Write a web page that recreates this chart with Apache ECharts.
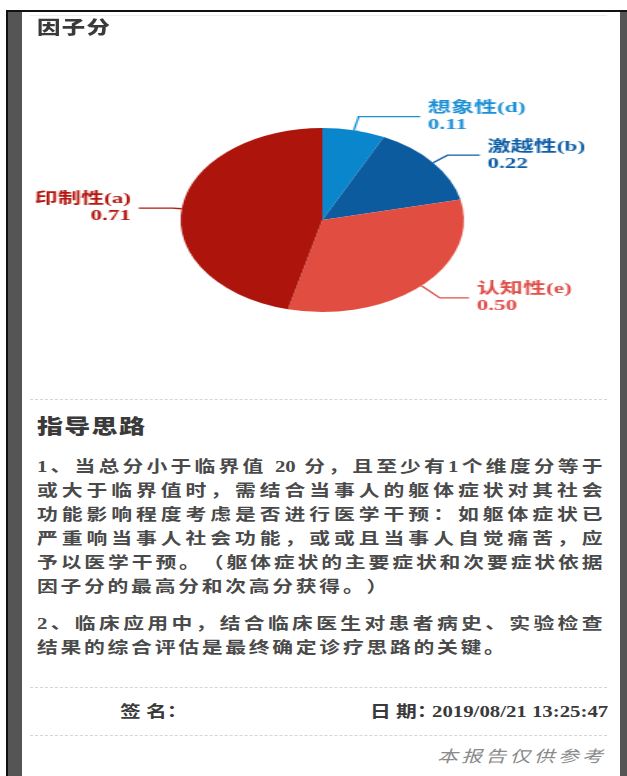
<!DOCTYPE html>
<html>
<head>
<meta charset="utf-8">
<script src="https://cdn.jsdelivr.net/npm/echarts@6/dist/echarts.min.js"></script>
<style>
  html, body { margin: 0; padding: 0; background: #fff; }
  body { width: 627px; height: 776px; position: relative; overflow: hidden; font-family: "Liberation Serif", "Noto Sans CJK SC", serif; }
  .frameTop { position: absolute; left: 6px; top: 10px; width: 621px; height: 2px; background: #111; }
  .frameLeftLine { position: absolute; left: 6px; top: 10px; width: 2px; height: 766px; background: #111; }
  .frameLeft { position: absolute; left: 8px; top: 12px; width: 14px; height: 764px; background: #555; }
  .frameRight { position: absolute; left: 620px; top: 12px; width: 7px; height: 764px; background: #555; }
  .topLine { position: absolute; left: 30px; top: 15px; width: 577px; height: 1px; background: #eee; }
  .dash { position: absolute; left: 30px; width: 577px; height: 0; border-top: 1px dashed #d6d6d6; }
  .t { position: absolute; white-space: nowrap; transform: scaleX(1.3); transform-origin: 0 0; font-weight: bold; text-spacing-trim: space-all; }
  .just { text-align: justify; text-align-last: justify; white-space: normal; }
  #chart { position: absolute; left: 22px; top: 0px; width: 388px; height: 400px; transform: scaleX(1.54); transform-origin: 0 0; }
</style>
</head>
<body>
<div class="frameTop"></div>
<div class="frameLeftLine"></div>
<div class="frameLeft"></div>
<div class="frameRight"></div>
<div class="topLine"></div>
<div id="chart"></div>
<div id="texts"></div>
<script>
// ---- data ----
const pieTitle = '因子分';
const categories = ['想象性(d)', '激越性(b)', '认知性(e)', '印制性(a)'];
const values = [0.11, 0.22, 0.50, 0.71];
const sectionTitle = '指导思路';
const paragraph1 = [
  '1、当总分小于临界值 20 分，且至少有1个维度分等于',
  '或大于临界值时，需结合当事人的躯体症状对其社会',
  '功能影响程度考虑是否进行医学干预：如躯体症状已',
  '严重响当事人社会功能，或或且当事人自觉痛苦，应',
  '予以医学干预。（躯体症状的主要症状和次要症状依据',
  '因子分的最高分和次高分获得。）'
];
const paragraph2 = [
  '2、临床应用中，结合临床医生对患者病史、实验检查',
  '结果的综合评估是最终确定诊疗思路的关键。'
];
const signLabel = '签 名：';
const dateLabel = '日 期：';
const dateValue = '2019/08/21 13:25:47';
const footNote = '本报告仅供参考';

// ---- styles ----
const sliceColors = ['#0a87cc', '#0b5b9e', '#e24d42', '#ad140b'];
const labelColors = ['#1a8fd6', '#0e5ea6', '#e04e48', '#b3170f'];
const lineLen1 = [14, 12, 17, 6];
const lineLen2 = [40, 21, 19, 22];

// ---- texts (HTML) ----
const texts = document.getElementById('texts');
function addText(str, left, centerY, size, opts) {
  opts = opts || {};
  const d = document.createElement('div');
  d.className = 't' + (opts.justify ? ' just' : '');
  d.textContent = str;
  const lh = Math.round(size * 1.4);
  d.style.left = left + 'px';
  d.style.top = (centerY - lh / 2) + 'px';
  d.style.fontSize = size + 'px';
  d.style.lineHeight = lh + 'px';
  d.style.color = opts.color || '#4a4a4a';
  if (opts.justify) d.style.width = opts.justify + 'px';
  if (opts.spacing != null) d.style.letterSpacing = opts.spacing + 'px';
  if (opts.weight) d.style.fontWeight = opts.weight;
  if (opts.italic) d.style.fontStyle = 'italic';
  if (opts.family) d.style.fontFamily = opts.family;
  texts.appendChild(d);
  return d;
}
function addDash(y) {
  const d = document.createElement('div');
  d.className = 'dash';
  d.style.top = y + 'px';
  texts.appendChild(d);
}

addText(pieTitle, 37, 28, 18, { color: '#3a3a3a', weight: 900, spacing: 1 });
addDash(399);
addText(sectionTitle, 37, 427, 20, { color: '#3a3a3a', weight: 900, spacing: 1 });
const p1Y = [467, 491, 515, 539, 563, 587];
paragraph1.forEach((s, i) => {
  if (i < paragraph1.length - 1) addText(s, 37, p1Y[i], 16, { justify: 435 });
  else addText(s, 37, p1Y[i], 16, { spacing: 2.1 });
});
const p2Y = [624, 648];
paragraph2.forEach((s, i) => {
  if (i < paragraph2.length - 1) addText(s, 37, p2Y[i], 16, { justify: 435 });
  else addText(s, 37, p2Y[i], 16, { spacing: 2.1 });
});
addDash(687);
addText(signLabel, 120, 712, 16, { color: '#3a3a3a' });
addText(dateLabel, 370, 712, 16, { color: '#3a3a3a' });
addText(dateValue, 432, 712, 16, { color: '#3a3a3a' });
addDash(735);
addText(footNote, 437, 757, 16, { color: '#8a8a8a', italic: true, weight: 'normal', spacing: 2.6 });

// ---- pie chart ----
const chart = echarts.init(document.getElementById('chart'), null, { renderer: 'canvas' });
const fam = '"Liberation Serif", "Noto Sans CJK SC", serif';
chart.setOption({
  animation: false,
  series: [{
    type: 'pie',
    center: [195, 220],
    radius: 92,
    startAngle: 90,
    clockwise: true,
    avoidLabelOverlap: false,
    data: categories.map((name, i) => ({
      name: name,
      value: values[i],
      itemStyle: { color: sliceColors[i] },
      label: { color: labelColors[i] },
      labelLine: { length: lineLen1[i], length2: lineLen2[i], lineStyle: { color: labelColors[i], width: 1.3 } }
    })),
    label: {
      show: true,
      fontFamily: fam,
      fontSize: 15,
      fontWeight: 'bold',
      lineHeight: 17,
      formatter: p => p.name + '\n' + Number(p.value).toFixed(2)
    },
    labelLine: { show: true, smooth: false }
  }]
});
</script>
</body>
</html>
